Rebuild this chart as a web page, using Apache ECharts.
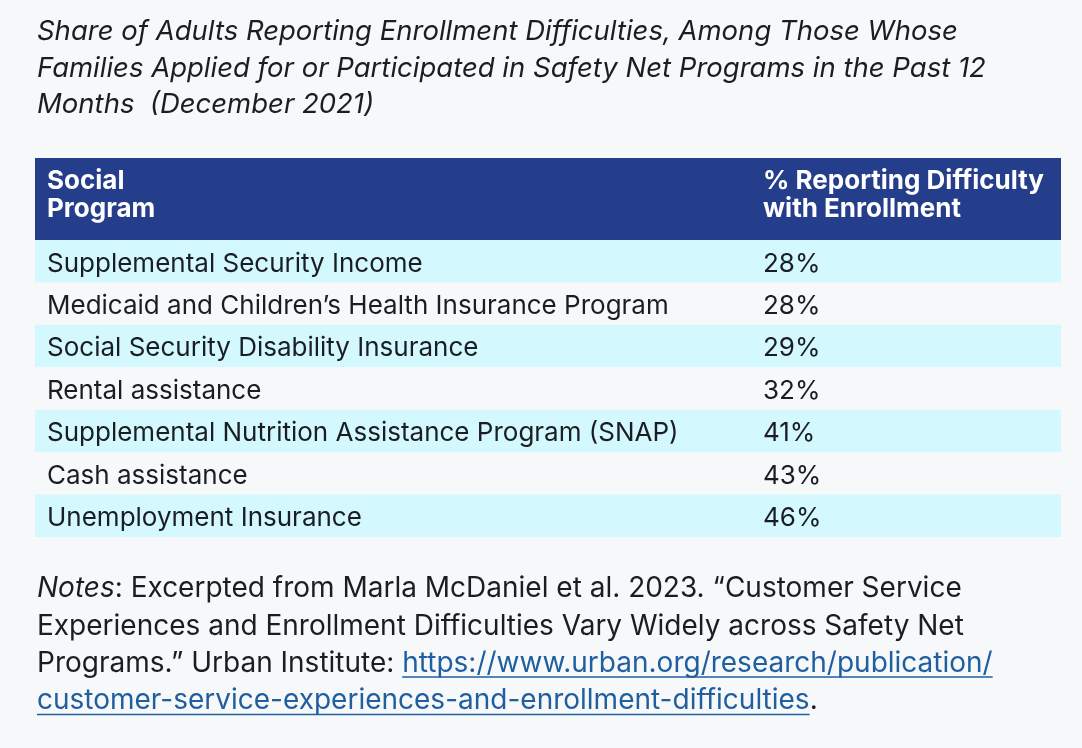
<!DOCTYPE html>
<html>
<head>
<meta charset="utf-8">
<title>Enrollment difficulties by program</title>
<script src="https://cdn.jsdelivr.net/npm/echarts@6/dist/echarts.min.js"></script>
<style>
  html, body { margin: 0; padding: 0; background: #f7f8fa; }
  #chart { width: 1082px; height: 748px; }
</style>
</head>
<body>
<div id="chart"></div>
<script>
// ---- data ----
const programs = [
  'Supplemental Security Income',
  'Medicaid and Children\u2019s Health Insurance Program',
  'Social Security Disability Insurance',
  'Rental assistance',
  'Supplemental Nutrition Assistance Program (SNAP)',
  'Cash assistance',
  'Unemployment Insurance'
];
const shares = [28, 28, 29, 32, 41, 43, 46];
const headers = ['Social\nProgram', '% Reporting Difficulty\nwith Enrollment'];
const titleLines = [
  'Share of Adults Reporting Enrollment Difficulties, Among Those Whose',
  'Families Applied for or Participated in Safety Net Programs in the Past 12',
  'Months  (December 2021)'
];
const notePlain = [
  ': Excerpted from Marla McDaniel et al. 2023. \u201cCustomer Service',
  'Experiences and Enrollment Difficulties Vary Widely across Safety Net',
  'Programs.\u201d Urban Institute: '
];
const noteLinks = [
  'https://www.urban.org/research/publication/',
  'customer-service-experiences-and-enrollment-difficulties'
];

// ---- style ----
const FAMILY = 'Inter, "Noto Sans", sans-serif';
const INK = '#1b1d24';
const LINK = '#1f5e9f';
const HEAD_BG = '#253e8c';
const BAND = ['#d3f8fe', '#f7f8fa'];
const TABLE_X = 35, TABLE_W = 1026;
const COL2 = 728;          // offset of second column inside table
const PAD = 12;
const ROW_SIZE = 26;
const NOTE_SIZE = 28, NOTE_LH = 37.3, NOTE_MID = 589;

const chart = echarts.init(document.getElementById('chart'));

// text width helper for the underline under the link
const ctx = document.createElement('canvas').getContext('2d');
function textWidth(str, font) {
  ctx.font = font;
  return ctx.measureText(str).width;
}

function renderRow(params, api) {
  const idx = api.value(1);
  const c = api.coord([0, idx]);
  const h = api.size([0, 1])[1];
  const cs = params.coordSys;
  return {
    type: 'group',
    children: [
      {
        type: 'rect',
        shape: { x: cs.x, y: c[1] - h / 2, width: cs.width, height: h },
        style: { fill: BAND[idx % 2] }
      },
      {
        type: 'text',
        x: cs.x + PAD, y: c[1] + 2.5,
        style: {
          text: programs[idx], fontSize: ROW_SIZE, fontFamily: FAMILY,
          fill: INK, verticalAlign: 'middle'
        }
      },
      {
        type: 'text',
        x: cs.x + COL2, y: c[1] + 2.5,
        style: {
          text: api.value(0) + '%', fontSize: ROW_SIZE, fontFamily: FAMILY,
          fill: INK, verticalAlign: 'middle'
        }
      }
    ]
  };
}

// notes block: plain text, italic "Notes", link with underline
const noteFont = NOTE_SIZE + 'px ' + FAMILY;
const notesW = textWidth('Notes', 'italic ' + noteFont);
const line3W = textWidth(notePlain[2], noteFont);
const link1W = textWidth(noteLinks[0], noteFont);
const link2W = textWidth(noteLinks[1], noteFont);
const ly = i => NOTE_MID + NOTE_LH * i;

const noteGraphics = [
  { type: 'text', x: 37, y: ly(0),
    style: { text: 'Notes', font: 'italic ' + noteFont, fill: INK, verticalAlign: 'middle' } },
  { type: 'text', x: 37 + notesW, y: ly(0),
    style: { text: notePlain[0], font: noteFont, fill: INK, verticalAlign: 'middle' } },
  { type: 'text', x: 37, y: ly(1),
    style: { text: notePlain[1], font: noteFont, fill: INK, verticalAlign: 'middle' } },
  { type: 'text', x: 37, y: ly(2),
    style: { text: notePlain[2], font: noteFont, fill: INK, verticalAlign: 'middle' } },
  { type: 'text', x: 37 + line3W, y: ly(2),
    style: { text: noteLinks[0], font: noteFont, fill: LINK, verticalAlign: 'middle' } },
  { type: 'line', shape: { x1: 37 + line3W, y1: ly(2) + 13.5,
                           x2: 37 + line3W + link1W, y2: ly(2) + 13.5 },
    style: { stroke: LINK, lineWidth: 1.5 } },
  { type: 'text', x: 37, y: ly(3),
    style: { text: noteLinks[1], font: noteFont, fill: LINK, verticalAlign: 'middle' } },
  { type: 'line', shape: { x1: 37, y1: ly(3) + 13.5,
                           x2: 37 + link2W, y2: ly(3) + 13.5 },
    style: { stroke: LINK, lineWidth: 1.5 } },
  { type: 'text', x: 37 + link2W, y: ly(3),
    style: { text: '.', font: noteFont, fill: INK, verticalAlign: 'middle' } }
];

const option = {
  backgroundColor: '#f7f8fa',
  animation: false,
  grid: { left: TABLE_X, right: 1082 - TABLE_X - TABLE_W, top: 240, bottom: 211 },
  xAxis: { type: 'value', min: 0, max: 100, show: false },
  yAxis: { type: 'category', data: programs, inverse: true, show: false },
  series: [{
    type: 'custom',
    renderItem: renderRow,
    encode: { x: 0, y: 1 },
    data: shares.map((v, i) => [v, i])
  }],
  graphic: [
    {
      type: 'text', x: 37, y: 13.5,
      style: {
        text: titleLines.join('\n'), font: 'italic 27.5px ' + FAMILY,
        lineHeight: 36.5, fill: INK
      }
    },
    {
      type: 'rect',
      shape: { x: TABLE_X, y: 158, width: TABLE_W, height: 82 },
      style: { fill: HEAD_BG }
    },
    {
      type: 'text', x: TABLE_X + PAD, y: 167,
      style: { text: headers[0], font: 'bold 26px ' + FAMILY, lineHeight: 28, fill: '#ffffff' }
    },
    {
      type: 'text', x: TABLE_X + COL2, y: 167,
      style: { text: headers[1], font: 'bold 26px ' + FAMILY, lineHeight: 28, fill: '#ffffff' }
    }
  ].concat(noteGraphics)
};

chart.setOption(option);
</script>
</body>
</html>
